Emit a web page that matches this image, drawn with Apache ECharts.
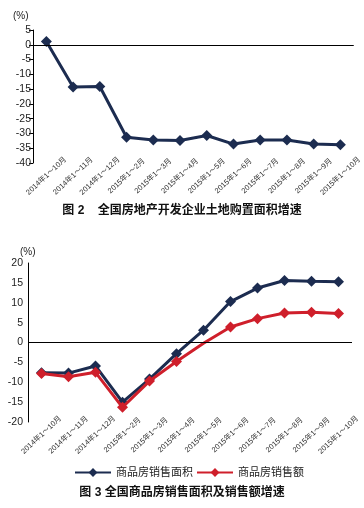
<!DOCTYPE html>
<html><head><meta charset="utf-8">
<script src="https://cdn.jsdelivr.net/npm/echarts@6/dist/echarts.min.js"></script>
<style>html,body{margin:0;padding:0;background:#fff}#c{width:364px;height:508px}</style>
</head><body><div id="c"></div>
<script>
var categories = ['2014年1～10月','2014年1～11月','2014年1～12月','2015年1～2月','2015年1～3月','2015年1～4月','2015年1～5月','2015年1～6月','2015年1～7月','2015年1～8月','2015年1～9月','2015年1～10月'];
var landArea = [1.1, -14.3, -14.1, -31.3, -32.2, -32.4, -30.7, -33.6, -32.2, -32.2, -33.6, -33.8];
var salesArea = [-7.6, -7.7, -5.9, -15.0, -9.2, -2.8, 3.1, 10.3, 13.7, 15.6, 15.4, 15.3];
var salesAmount = [-7.8, -8.6, -7.5, -16.3, -9.7, -4.8, -0.2, 3.9, 6.0, 7.4, 7.6, 7.3];
var topTicks = [-40, 5, 5];
var bottomTicks = [-20, 20, 5];
var seriesNames = ['商品房销售面积', '商品房销售额'];
var title2 = '图 2    全国房地产开发企业土地购置面积增速';
var title3 = '图 3 全国商品房销售面积及销售额增速';

var FONT = '"Liberation Sans", Arial, "Noto Sans CJK SC", sans-serif';
var NAVY = '#1c2c50', RED = '#cf1f2b';
var chart = echarts.init(document.getElementById('c'), null, {renderer: 'canvas'});

function xAx(gi) {
  return {
    type: 'category', gridIndex: gi, data: categories, boundaryGap: true,
    axisLine: {show: false}, axisTick: {show: false}, splitLine: {show: false},
    axisLabel: {rotate: 43, align: 'center', verticalAlign: 'middle', margin: 13,
      fontSize: 7.5, color: '#333', fontFamily: FONT, interval: 0}
  };
}
function yAx(gi, t, tick) {
  return {
    type: 'value', gridIndex: gi, min: t[0], max: t[1], interval: t[2],
    axisLine: {show: true, lineStyle: {color: '#000', width: 1}},
    axisTick: {show: tick, length: 4, lineStyle: {color: '#000'}},
    splitLine: {show: false},
    axisLabel: {fontSize: 10.5, color: '#222', fontFamily: FONT, margin: tick ? 2 : 5}
  };
}
var zeroLine = {silent: true, symbol: 'none', label: {show: false},
  lineStyle: {color: '#000', width: 1, type: 'solid'}, data: [{yAxis: 0}]};

chart.setOption({
  animation: false,
  textStyle: {fontFamily: FONT},
  grid: [
    {left: 33, top: 30, width: 322, height: 133},
    {left: 28, top: 263, width: 324, height: 159}
  ],
  xAxis: [xAx(0), xAx(1)],
  yAxis: [yAx(0, topTicks, true), yAx(1, bottomTicks, false)],
  legend: {
    left: 69, top: 462, itemWidth: 36, itemHeight: 11, itemGap: 3,
    textStyle: {fontSize: 11, color: '#222', fontFamily: FONT},
    data: seriesNames
  },
  graphic: [
    {type: 'text', left: 13, top: 11, style: {text: '(%)', fontSize: 10, fill: '#222', fontFamily: FONT}},
    {type: 'text', left: 20, top: 247, style: {text: '(%)', fontSize: 10, fill: '#222', fontFamily: FONT}},
    {type: 'text', left: 'center', top: 205, style: {text: title2, fontSize: 12, fontWeight: 'bold', fill: '#111', fontFamily: FONT}},
    {type: 'text', left: 'center', top: 487, style: {text: title3, fontSize: 12, fontWeight: 'bold', fill: '#111', fontFamily: FONT}}
  ],
  series: [
    {type: 'line', xAxisIndex: 0, yAxisIndex: 0, data: landArea,
     symbol: 'diamond', symbolSize: 11, lineStyle: {color: NAVY, width: 3},
     itemStyle: {color: NAVY}, markLine: zeroLine, z: 3},
    {type: 'line', name: seriesNames[0], xAxisIndex: 1, yAxisIndex: 1, data: salesArea,
     symbol: 'diamond', symbolSize: 11, lineStyle: {color: NAVY, width: 3},
     itemStyle: {color: NAVY}, markLine: zeroLine, z: 3},
    {type: 'line', name: seriesNames[1], xAxisIndex: 1, yAxisIndex: 1,
     data: salesAmount.map(function (v, i) { return i === 6 ? {value: v, symbolSize: 0} : v; }),
     symbol: 'diamond', symbolSize: 11, lineStyle: {color: RED, width: 3},
     itemStyle: {color: RED}, z: 4}
  ]
});
</script></body></html>
